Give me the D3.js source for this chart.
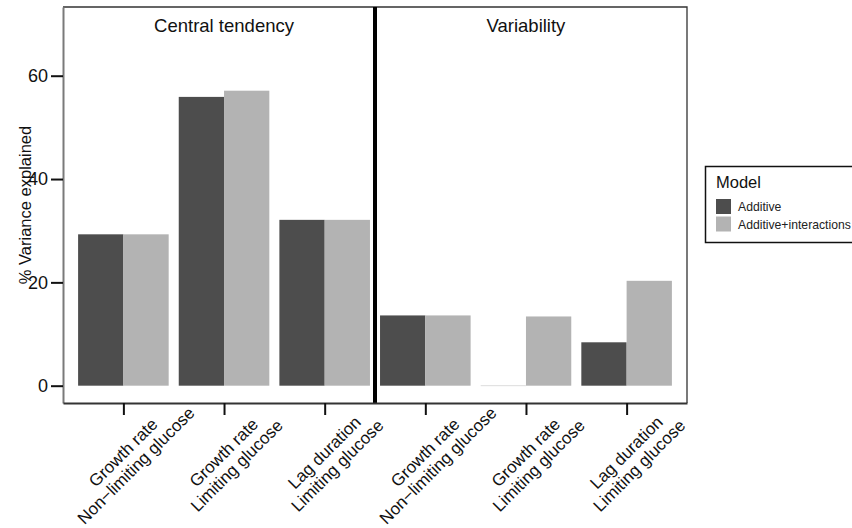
<!DOCTYPE html>
<html>
<head>
<meta charset="utf-8">
<script src="https://cdn.jsdelivr.net/npm/d3@7"></script>
<style>
  body { margin: 0; background: #fff; }
  svg { font-family: "Liberation Sans", Arial, sans-serif; }
</style>
</head>
<body>
<svg id="chart" width="852" height="528"></svg>
<script>
// categories (left 3 = central tendency, right 3 = variability)
const categories = ["ct_gr_nl", "ct_gr_l", "ct_lag_l", "var_gr_nl", "var_gr_l", "var_lag_l"];
const labelLines = [
  ["Growth rate", "Non\u2212limiting glucose"],
  ["Growth rate", "Limiting glucose"],
  ["Lag duration", "Limiting glucose"],
  ["Growth rate", "Non\u2212limiting glucose"],
  ["Growth rate", "Limiting glucose"],
  ["Lag duration", "Limiting glucose"],
];
const models = ["Additive", "Additive+interactions"];
const additiveVals = [29.3, 55.9, 32.1, 13.6, 0, 8.4];
const interactionVals = [29.3, 57.1, 32.1, 13.6, 13.4, 20.3];
const yTicks = [0, 20, 40, 60];
const panelTitles = ["Central tendency", "Variability"];

const MODEL_COLOR = d3.scaleOrdinal().domain(models).range(["#4d4d4d", "#b3b3b3"]);

const plot = { left: 63, right: 687, top: 7, bottom: 403 };

const svg = d3.select("#chart");

const x = d3.scalePoint().domain(categories).range([plot.left, plot.right]).padding(0.6);
const xInner = d3
  .scaleBand()
  .domain(models)
  .range([-0.45 * x.step(), 0.45 * x.step()]);
const y = d3.scaleLinear().domain([-3.35, 73.3]).range([plot.bottom, plot.top]);

// flatten to one row per bar
const rows = [];
categories.forEach((c, i) => {
  rows.push({ cat: c, model: models[0], value: additiveVals[i] });
  rows.push({ cat: c, model: models[1], value: interactionVals[i] });
});

// panel border (top + right, left/bottom are the axes)
svg
  .append("path")
  .attr("d", `M${plot.left},${plot.top}H${plot.right}V${plot.bottom}`)
  .attr("fill", "none")
  .attr("stroke", "#333")
  .attr("stroke-width", 1.3);

const bars = svg.append("g").attr("class", "bars");
bars
  .selectAll("rect")
  .data(rows)
  .enter()
  .append("rect")
  .attr("x", (d) => x(d.cat) + xInner(d.model))
  .attr("width", xInner.bandwidth())
  .attr("y", (d) => y(Math.max(0, d.value)))
  .attr("height", (d) => Math.abs(y(d.value) - y(0)))
  .attr("fill", (d) => MODEL_COLOR(d.model));

// zero height bars still leave a faint outline in the original
bars
  .selectAll("line.zero")
  .data(rows.filter((d) => d.value === 0))
  .enter()
  .append("line")
  .attr("class", "zero")
  .attr("x1", (d) => x(d.cat) + xInner(d.model))
  .attr("x2", (d) => x(d.cat) + xInner(d.model) + xInner.bandwidth())
  .attr("y1", y(0))
  .attr("y2", y(0))
  .attr("stroke", "#dcdcdc")
  .attr("stroke-width", 1);

// divider between the two groups
const midX = (x(categories[2]) + x(categories[3])) / 2;
svg
  .append("line")
  .attr("x1", midX)
  .attr("x2", midX)
  .attr("y1", plot.top)
  .attr("y2", plot.bottom)
  .attr("stroke", "#000")
  .attr("stroke-width", 4);

// panel titles, centered over the middle category of each half
svg
  .selectAll("text.ptitle")
  .data(panelTitles)
  .enter()
  .append("text")
  .attr("class", "ptitle")
  .attr("x", (d, i) => x(categories[i * 3 + 1]))
  .attr("y", 31.5)
  .style("text-anchor", "middle")
  .style("font-size", "18.5px")
  .attr("fill", "#111")
  .text((d) => d);

// y axis
const yAxis = svg
  .append("g")
  .attr("transform", `translate(${plot.left},0)`)
  .call(d3.axisLeft(y).tickValues(yTicks).tickSize(12).tickSizeOuter(0).tickPadding(3));
yAxis.select(".domain").attr("stroke", "#7a7a7a").attr("stroke-width", 2);
yAxis.selectAll(".tick line").attr("stroke", "#111").attr("stroke-width", 2);
yAxis
  .selectAll(".tick text")
  .style("font-size", "18px")
  .style("font-family", '"Liberation Sans", Arial, sans-serif')
  .style("text-anchor", "end")
  .attr("fill", "#111");

// x axis (labels drawn separately because they are two lines and rotated)
const xAxis = svg
  .append("g")
  .attr("transform", `translate(0,${plot.bottom})`)
  .call(d3.axisBottom(x).tickSize(12).tickSizeOuter(0).tickFormat(""));
xAxis.select(".domain").attr("stroke", "#333").attr("stroke-width", 2);
xAxis.selectAll(".tick line").attr("stroke", "#111").attr("stroke-width", 2);

// each label line is centred at an offset from the tick, in the rotated frame
const ALONG = -26; // along the text direction
const ACROSS = [25.5, 43.8]; // perpendicular, per line
const c45 = Math.SQRT1_2;
const labelData = [];
categories.forEach((c, i) => {
  labelLines[i].forEach((line, j) => {
    labelData.push({
      cx: x(c) + ALONG * c45 + ACROSS[j] * c45,
      cy: plot.bottom + 13 - ALONG * c45 + ACROSS[j] * c45,
      text: line,
    });
  });
});
svg
  .append("g")
  .attr("class", "xlabels")
  .selectAll("text")
  .data(labelData)
  .enter()
  .append("text")
  .attr("transform", (d) => `translate(${d.cx},${d.cy}) rotate(-45)`)
  .attr("dy", "0.35em")
  .style("text-anchor", "middle")
  .style("font-size", "17px")
  .attr("fill", "#111")
  .text((d) => d.text);

// y axis title
svg
  .append("text")
  .attr("transform", `translate(31,${(plot.top + plot.bottom) / 2}) rotate(-90)`)
  .style("text-anchor", "middle")
  .style("font-size", "16.5px")
  .attr("fill", "#111")
  .text("% Variance explained");

// legend
const legend = svg.append("g").attr("id", "legend");
legend
  .append("rect")
  .attr("x", 705.5)
  .attr("y", 166.5)
  .attr("width", 160)
  .attr("height", 76)
  .attr("fill", "#fff")
  .attr("stroke", "#111")
  .attr("stroke-width", 1.5);
legend
  .append("text")
  .attr("x", 716)
  .attr("y", 188)
  .style("font-size", "16.5px")
  .attr("fill", "#111")
  .text("Model");
const keys = legend
  .selectAll("g.key")
  .data(models)
  .enter()
  .append("g")
  .attr("class", "key")
  .attr("transform", (d, i) => `translate(716,${199 + i * 17.5})`);
keys
  .append("rect")
  .attr("width", 15)
  .attr("height", 15)
  .attr("fill", (d) => MODEL_COLOR(d));
keys
  .append("text")
  .attr("x", 22)
  .attr("y", 12)
  .style("font-size", "12.2px")
  .attr("fill", "#222")
  .text((d) => d);
</script>
</body>
</html>
